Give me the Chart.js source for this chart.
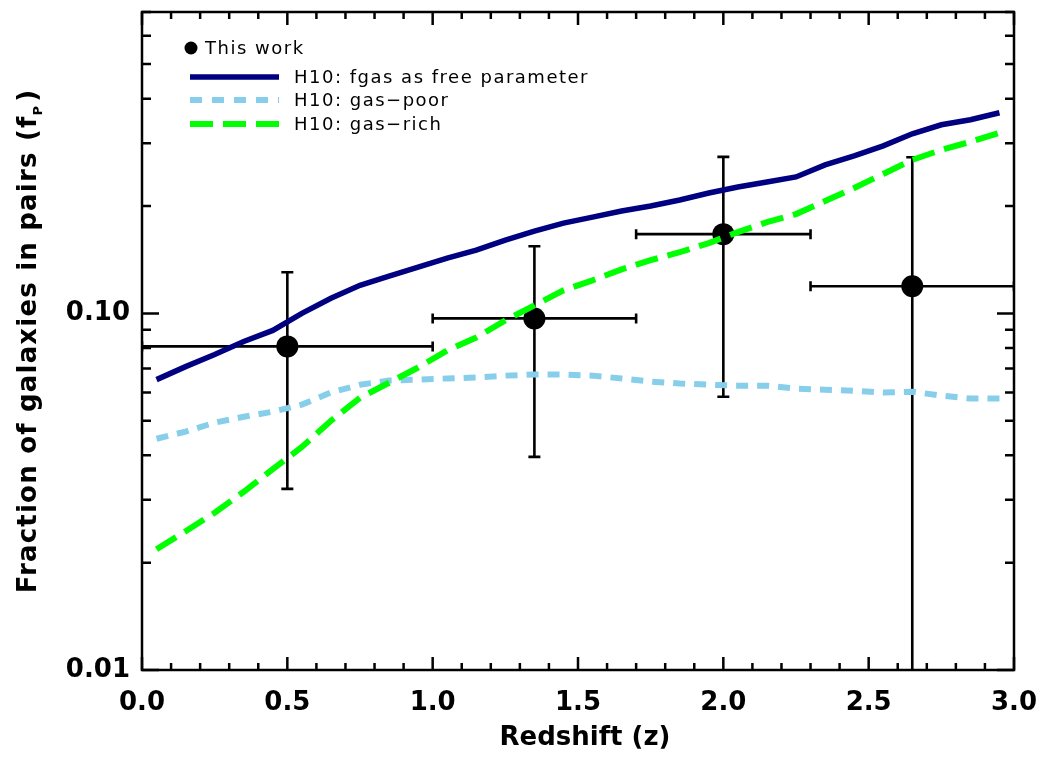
<!DOCTYPE html>
<html>
<head>
<meta charset="utf-8">
<script src="https://cdn.jsdelivr.net/npm/chart.js@4/dist/chart.umd.min.js"></script>
<style>
  html, body { margin: 0; padding: 0; background: #ffffff; }
  #wrap { width: 1041px; height: 763px; }
</style>
</head>
<body>
<div id="wrap"><canvas id="c" width="1041" height="763"></canvas></div>
<script>
// ---------- data ----------
const zModel = [0.05,0.15,0.25,0.35,0.45,0.55,0.65,0.75,0.85,0.95,1.05,1.15,1.25,1.35,1.45,1.55,1.65,1.75,1.85,1.95,2.05,2.15,2.25,2.35,2.45,2.55,2.65,2.75,2.85,2.95];
const fgasFree = [0.0652,0.0709,0.0767,0.0834,0.0896,0.1000,0.1102,0.1199,0.1271,0.1347,0.1428,0.1504,0.1604,0.1701,0.1791,0.1862,0.1936,0.2000,0.2079,0.2176,0.2262,0.2336,0.2413,0.2609,0.2765,0.2950,0.3188,0.3380,0.3491,0.3653];
const gasPoor = [0.0445,0.0466,0.0494,0.0513,0.0530,0.0555,0.0600,0.0631,0.0648,0.0652,0.0657,0.0661,0.0669,0.0674,0.0674,0.0669,0.0657,0.0644,0.0636,0.0631,0.0627,0.0627,0.0615,0.0611,0.0607,0.0600,0.0603,0.0588,0.0577,0.0577];
const gasRich = [0.0218,0.0245,0.0276,0.0316,0.0366,0.0422,0.0500,0.0580,0.0639,0.0705,0.0787,0.0856,0.0956,0.1053,0.1161,0.1238,0.1329,0.1410,0.1484,0.1574,0.1690,0.1803,0.1899,0.2065,0.2247,0.2460,0.2694,0.2874,0.3027,0.3209];

const zObs  = [0.5, 1.35, 2.0, 2.65];
const fObs  = [0.0808, 0.0968, 0.1668, 0.1191];
const zLow  = [0.0, 1.0, 1.7, 2.3];
const zHigh = [1.0, 1.7, 2.3, 3.0];
const fLow  = [0.0322, 0.0396, 0.0584, 0.005];
const fHigh = [0.1304, 0.1543, 0.2747, 0.2740];

const seriesLabels = ['This work', 'H10: fgas as free parameter', 'H10: gas\u2212poor', 'H10: gas\u2212rich'];
const xMajorTicks = [0.0, 0.5, 1.0, 1.5, 2.0, 2.5, 3.0];
const xMinorTicks = [0.1,0.2,0.3,0.4,0.6,0.7,0.8,0.9,1.1,1.2,1.3,1.4,1.6,1.7,1.8,1.9,2.1,2.2,2.3,2.4,2.6,2.7,2.8,2.9];
const yMajorTicks = [0.01, 0.1];
const yMinorTicks = [0.02,0.03,0.04,0.05,0.06,0.07,0.08,0.09,0.2,0.3,0.4,0.5,0.6,0.7];
const yTickLabels = {0.01: '0.01', 0.1: '0.10'};
const xTitle = 'Redshift (z)';
const yTitleMain = 'Fraction of galaxies in pairs (f';
const yTitleSub = 'P';
const yTitleEnd = ')';

const NAVY = '#000080', SKY = '#87CEEB', GREEN = '#00FF00';
const FONT = '"DejaVu Sans", Verdana, sans-serif';

const pts = (xs, ys) => xs.map((x, i) => ({x: x, y: ys[i]}));

// ---------- plugins ----------
const errorBars = {
  id: 'errorBars',
  beforeDatasetsDraw(chart) {
    const ctx = chart.ctx, xs = chart.scales.x, ys = chart.scales.y, a = chart.chartArea;
    ctx.save();
    ctx.beginPath();
    ctx.rect(a.left, a.top, a.right - a.left, a.bottom - a.top);
    ctx.clip();
    ctx.strokeStyle = '#000';
    ctx.lineWidth = 2.6;
    ctx.lineCap = 'butt';
    for (let i = 0; i < zObs.length; i++) {
      const px = xs.getPixelForValue(zObs[i]);
      const py = ys.getPixelForValue(fObs[i]);
      const x0 = xs.getPixelForValue(zLow[i]), x1 = xs.getPixelForValue(zHigh[i]);
      const y0 = ys.getPixelForValue(fLow[i]), y1 = ys.getPixelForValue(fHigh[i]);
      ctx.beginPath();
      ctx.moveTo(x0, py); ctx.lineTo(x1, py);
      ctx.moveTo(x0, py - 5); ctx.lineTo(x0, py + 5);
      ctx.moveTo(x1, py - 5); ctx.lineTo(x1, py + 5);
      ctx.moveTo(px, y0); ctx.lineTo(px, y1);
      ctx.moveTo(px - 6, y0); ctx.lineTo(px + 6, y0);
      ctx.moveTo(px - 6, y1); ctx.lineTo(px + 6, y1);
      ctx.stroke();
    }
    ctx.restore();
  }
};

const frameAndText = {
  id: 'frameAndText',
  afterDraw(chart) {
    const ctx = chart.ctx, xs = chart.scales.x, ys = chart.scales.y, a = chart.chartArea;
    ctx.save();
    ctx.strokeStyle = '#000';
    ctx.lineWidth = 2.5;
    ctx.lineCap = 'butt';
    ctx.beginPath();
    xMajorTicks.forEach(v => {
      const p = xs.getPixelForValue(v);
      ctx.moveTo(p, a.bottom); ctx.lineTo(p, a.bottom - 13);
      ctx.moveTo(p, a.top); ctx.lineTo(p, a.top + 13);
    });
    xMinorTicks.forEach(v => {
      const p = xs.getPixelForValue(v);
      ctx.moveTo(p, a.bottom); ctx.lineTo(p, a.bottom - 7);
      ctx.moveTo(p, a.top); ctx.lineTo(p, a.top + 7);
    });
    yMajorTicks.forEach(v => {
      const p = ys.getPixelForValue(v);
      ctx.moveTo(a.left, p); ctx.lineTo(a.left + 17, p);
      ctx.moveTo(a.right, p); ctx.lineTo(a.right - 17, p);
    });
    yMinorTicks.forEach(v => {
      const p = ys.getPixelForValue(v);
      ctx.moveTo(a.left, p); ctx.lineTo(a.left + 9, p);
      ctx.moveTo(a.right, p); ctx.lineTo(a.right - 9, p);
    });
    ctx.stroke();
    ctx.strokeRect(a.left, a.top, a.right - a.left, a.bottom - a.top);

    // x title
    ctx.fillStyle = '#000';
    ctx.font = 'bold 26px ' + FONT;
    ctx.textAlign = 'center';
    ctx.textBaseline = 'alphabetic';
    ctx.fillText(xTitle, 585, 745);

    // y title (rotated) with subscript
    ctx.save();
    ctx.translate(36, (a.top + a.bottom) / 2);
    ctx.rotate(-Math.PI / 2);
    ctx.textAlign = 'left';
    ctx.letterSpacing = '1.2px';
    ctx.font = 'bold 26px ' + FONT;
    const w1 = ctx.measureText(yTitleMain).width;
    const w3 = ctx.measureText(yTitleEnd).width;
    ctx.font = 'bold 13px ' + FONT;
    const w2 = ctx.measureText(yTitleSub).width + 3;
    const total = w1 + w2 + w3;
    let x = -total / 2;
    ctx.font = 'bold 26px ' + FONT;
    ctx.fillText(yTitleMain, x, 0);
    x += w1;
    ctx.font = 'bold 13px ' + FONT;
    ctx.fillText(yTitleSub, x, 6);
    x += w2;
    ctx.font = 'bold 26px ' + FONT;
    ctx.fillText(yTitleEnd, x, 0);
    ctx.restore();

    // legend
    ctx.letterSpacing = '1.5px';
    ctx.font = '18px ' + FONT;
    ctx.textAlign = 'left';
    ctx.textBaseline = 'alphabetic';
    ctx.fillStyle = '#000';
    ctx.beginPath();
    ctx.arc(191, 48, 6.5, 0, Math.PI * 2);
    ctx.fill();
    ctx.fillText(seriesLabels[0], 205, 54);
    const rows = [
      {y: 77, color: NAVY, dash: [], w: 5.5, label: seriesLabels[1], base: 83},
      {y: 100, color: SKY, dash: [12, 10], w: 6, label: seriesLabels[2], base: 106},
      {y: 124, color: GREEN, dash: [23, 10], w: 6, label: seriesLabels[3], base: 130}
    ];
    rows.forEach(r => {
      ctx.save();
      ctx.strokeStyle = r.color;
      ctx.lineWidth = r.w;
      ctx.setLineDash(r.dash);
      ctx.beginPath();
      ctx.moveTo(190, r.y); ctx.lineTo(279, r.y);
      ctx.stroke();
      ctx.restore();
      ctx.fillText(r.label, 294, r.base);
    });
    ctx.restore();
  }
};

// ---------- chart ----------
new Chart(document.getElementById('c'), {
  data: {
    datasets: [
      { type: 'line', label: seriesLabels[1], data: pts(zModel, fgasFree), borderColor: NAVY, borderWidth: 5.5, pointRadius: 0, tension: 0, fill: false, borderCapStyle: 'butt' },
      { type: 'line', label: seriesLabels[3], data: pts(zModel, gasRich), borderColor: GREEN, borderWidth: 6, borderDash: [23, 10], pointRadius: 0, tension: 0, fill: false, borderCapStyle: 'butt' },
      { type: 'line', label: seriesLabels[2], data: pts(zModel, gasPoor), borderColor: SKY, borderWidth: 6, borderDash: [12, 9], pointRadius: 0, tension: 0, fill: false, borderCapStyle: 'butt' },
      { type: 'scatter', label: seriesLabels[0], data: pts(zObs, fObs), backgroundColor: '#000', borderColor: '#000', pointRadius: 11, borderWidth: 0 }
    ]
  },
  options: {
    responsive: false,
    animation: false,
    devicePixelRatio: 1,
    layout: { padding: { top: 12, right: 27, left: 0, bottom: 0 } },
    plugins: { legend: { display: false }, tooltip: { enabled: false } },
    scales: {
      x: {
        type: 'linear', min: 0, max: 3.0,
        grid: { display: false, drawTicks: false },
        border: { display: false },
        ticks: {
          stepSize: 0.5, autoSkip: false, padding: 18, color: '#000', maxRotation: 0,
          font: { family: FONT, size: 26, weight: 'bold' },
          callback: v => (Math.abs(v * 2 - Math.round(v * 2)) < 1e-6 ? v.toFixed(1) : '')
        },
        afterFit: s => { s.height = 93; s.paddingLeft = 0; s.paddingRight = 0; }
      },
      y: {
        type: 'logarithmic', min: 0.01, max: 0.7,
        grid: { display: false, drawTicks: false },
        border: { display: false },
        ticks: {
          autoSkip: false, padding: 12, color: '#000',
          font: { family: FONT, size: 26, weight: 'bold' },
          callback: v => {
            for (const k of Object.keys(yTickLabels)) { if (Math.abs(v - Number(k)) < 1e-9) return yTickLabels[k]; }
            return '';
          }
        },
        afterFit: s => { s.width = 142; s.paddingTop = 0; s.paddingBottom = 0; }
      }
    }
  },
  plugins: [errorBars, frameAndText]
});
</script>
</body>
</html>
